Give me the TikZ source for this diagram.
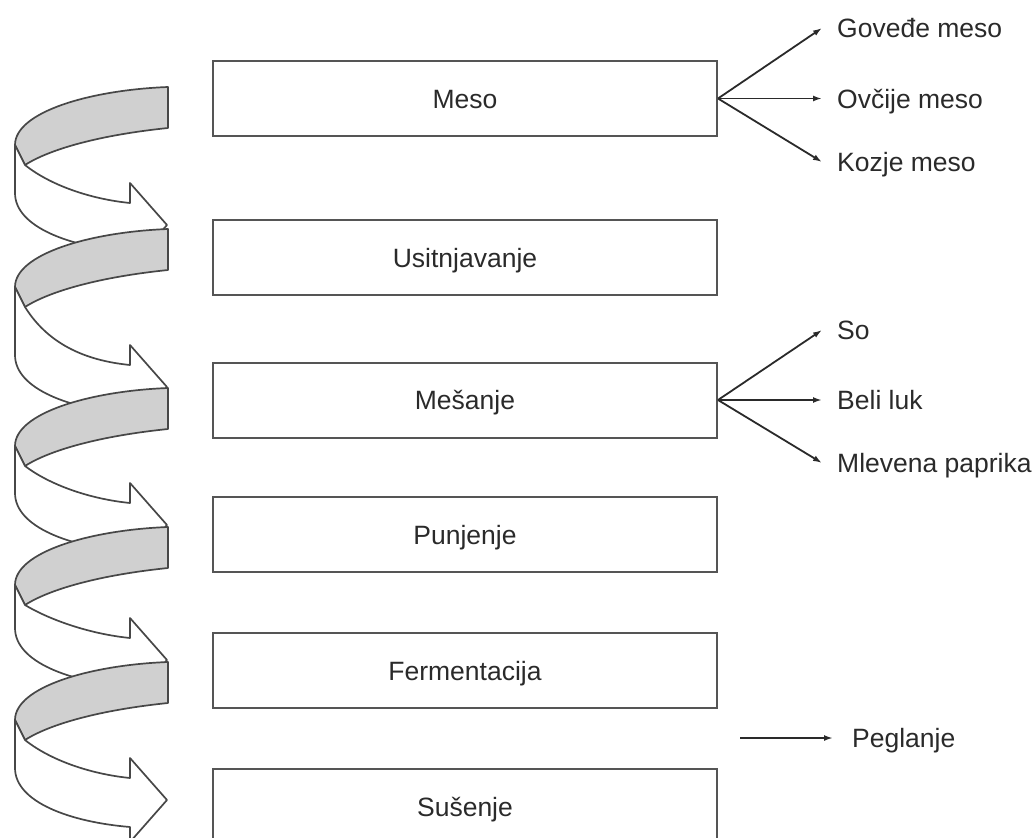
\documentclass[tikz,border=0pt]{standalone}
\usepackage{fontspec}
\setmainfont{Liberation Sans}
\usetikzlibrary{arrows.meta}
\definecolor{boxline}{HTML}{555555}
\definecolor{bandgray}{HTML}{D0D0D0}
\definecolor{inkgray}{HTML}{2A2A2A}
\begin{document}
\begin{tikzpicture}[
		x=1pt, y=-1pt,
		font=\fontsize{26.5}{30}\selectfont,
		every node/.style={text=inkgray},
		stage/.style={draw=boxline, line width=2pt, minimum width=504pt, minimum height=75pt, inner sep=0pt, text height=19pt, text depth=0pt},
		item/.style={anchor=west, inner xsep=15pt, inner ysep=0pt, text height=19pt, text depth=0pt},
		feed/.style={draw=inkgray, line width=1.8pt, -{Latex[length=9pt,width=6pt]}},
		pics/spiralturn/.style={code={
			\filldraw[draw=black!72, line width=1.7pt, line join=round, fill=bandgray]
				(168,0) .. controls (90,3) and (15,25) .. (15,58) -- (25,78)
				.. controls (50,62) and (100,48) .. (168,41) -- cycle;
			\filldraw[draw=black!72, line width=1.7pt, line join=round, fill=white]
				(15,58) -- (15,{#1-32}) .. controls (15,{#1+2}) and (70,{#1+22}) .. (130,{#1+27})
				-- (130,{#1+42}) -- (167,#1) -- (130,{#1-42}) -- (130,{#1-22})
				.. controls (90,{#1-26}) and (50,{#1-40}) .. (25,78) -- cycle;
		}}
	]
	\useasboundingbox (0,0) rectangle (1034,838);
	\pic at (0,87) {spiralturn=138};
	\pic at (0,229) {spiralturn=158};
	\pic at (0,388) {spiralturn=137};
	\pic at (0,527) {spiralturn=133};
	\pic at (0,662) {spiralturn=138};

	\node[stage] (meso) at (465,98.5) {Meso};
	\node[stage] (usitnjavanje) at (465,257.5) {Usitnjavanje};
	\node[stage] (mesanje) at (465,400) {Mešanje};
	\node[stage] (punjenje) at (465,534.5) {Punjenje};
	\node[stage] (fermentacija) at (465,670.5) {Fermentacija};
	\node[stage] (susenje) at (465,806.5) {Sušenje};

	\node[item] (govedje) at (822,28) {Goveđe meso};
	\node[item] (ovcije) at (822,98.5) {Ovčije meso};
	\node[item] (kozje) at (822,162) {Kozje meso};
	\draw[feed] (meso.east) -- (govedje.west);
	\draw[feed] (meso.east) -- (ovcije.west);
	\draw[feed] (meso.east) -- (kozje.west);

	\node[item] (so) at (822,330) {So};
	\node[item] (luk) at (822,400) {Beli luk};
	\node[item] (paprika) at (822,463) {Mlevena paprika};
	\draw[feed] (mesanje.east) -- (so.west);
	\draw[feed] (mesanje.east) -- (luk.west);
	\draw[feed] (mesanje.east) -- (paprika.west);

	\coordinate (pegstart) at (740,738);
	\node[item, inner xsep=19pt] (peglanje) at (833,738) {Peglanje};
	\draw[feed] (pegstart) -- (peglanje.west);
\end{tikzpicture}
\end{document}
